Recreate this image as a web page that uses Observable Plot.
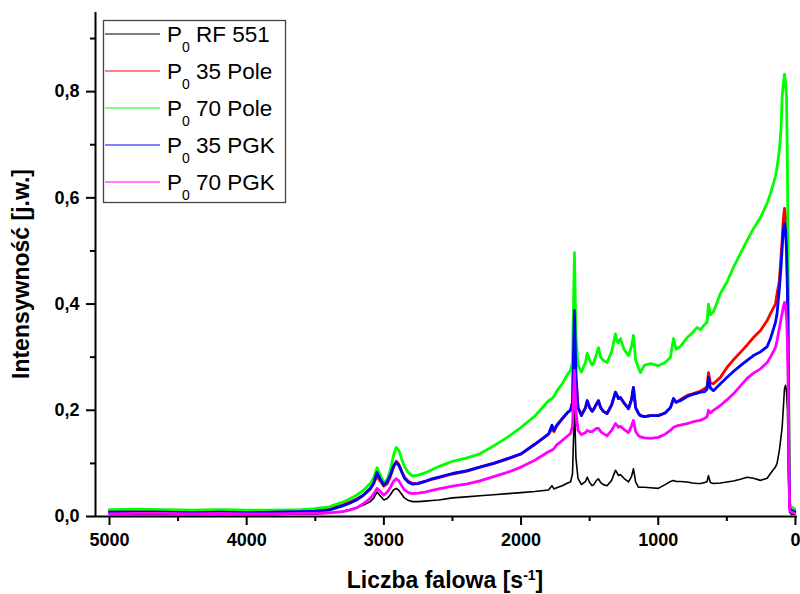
<!DOCTYPE html>
<html>
<head>
<meta charset="utf-8">
<script src="https://cdn.jsdelivr.net/npm/d3@7"></script>
<script src="https://cdn.jsdelivr.net/npm/@observablehq/plot@0.6"></script>
<style>
  html, body { margin: 0; padding: 0; background: #fff; }
  #chart svg { display: block; }
</style>
</head>
<body>
<div id="chart"></div>
<script>
// Raman spectra: wavenumber grid shared by all five samples
const wavenumber = [
  5000, 4800, 4600, 4400, 4200, 4000, 3800, 3600, 3500, 3400,
  3300, 3250, 3200, 3150, 3100, 3075, 3050, 3030, 3000, 2975,
  2950, 2930, 2910, 2890, 2870, 2850, 2820, 2790, 2750, 2700,
  2650, 2600, 2500, 2400, 2300, 2200, 2100, 2000, 1900, 1800,
  1775, 1760, 1740, 1700, 1660, 1640, 1625, 1611, 1600, 1585,
  1560, 1530, 1518, 1500, 1482, 1470, 1450, 1436, 1420, 1400,
  1373, 1340, 1312, 1300, 1290, 1276, 1250, 1217, 1195, 1181,
  1165, 1144, 1130, 1100, 1057, 1000, 950, 911, 889, 870,
  840, 789, 750, 717, 693, 660, 644, 634, 620, 598,
  547, 498, 452, 401, 352, 306, 255, 206, 182, 146,
  134, 117, 105, 97, 88, 80, 72, 65, 58, 52,
  47, 42, 30, 15, 5
];

const rf551 = [
  .004, .004, .004, .004, .004, .004, .004, .005, .005, .006,
  .010, .013, .017, .021, .028, .034, .046, .040, .031, .034,
  .042, .050, .053, .049, .042, .035, .030, .028, .028, .029,
  .030, .031, .035, .037, .039, .041, .043, .045, .047, .050,
  .058, .052, .054, .058, .063, .065, .080, .209, .110, .072,
  .060, .066, .074, .064, .058, .060, .068, .071, .064, .060,
  .058, .068, .087, .082, .077, .079, .072, .065, .075, .090,
  .065, .055, .055, .055, .054, .053, .060, .066, .068, .066,
  .066, .065, .063, .062, .062, .064, .066, .077, .064, .062,
  .063, .065, .067, .070, .074, .072, .068, .072, .081, .093,
  .100, .125, .150, .168, .205, .240, .247, .235, .200, .110,
  .040, .008, .004, .004, .004
];

const pole35 = [
  .010, .010, .011, .010, .010, .010, .010, .011, .012, .015,
  .022, .027, .033, .040, .052, .062, .076, .068, .057, .062,
  .077, .092, .104, .098, .085, .074, .066, .062, .063, .066,
  .070, .073, .080, .085, .093, .100, .108, .118, .136, .155,
  .165, .160, .170, .184, .196, .200, .215, .380, .260, .205,
  .192, .205, .218, .205, .198, .202, .212, .218, .205, .198,
  .194, .210, .234, .228, .222, .224, .214, .203, .220, .243,
  .205, .194, .190, .188, .190, .190, .195, .205, .222, .215,
  .220, .228, .231, .234, .236, .241, .245, .271, .252, .250,
  .262, .281, .295, .309, .323, .337, .350, .369, .382, .400,
  .420, .444, .490, .520, .560, .580, .565, .545, .440, .300,
  .100, .020, .012, .012, .010
];

const pole70 = [
  .013, .014, .013, .012, .013, .012, .012, .013, .015, .018,
  .027, .033, .040, .049, .062, .072, .092, .080, .064, .070,
  .090, .115, .130, .124, .108, .094, .082, .076, .078, .082,
  .088, .094, .104, .110, .118, .133, .149, .168, .189, .218,
  .222, .226, .236, .250, .268, .275, .290, .497, .340, .285,
  .272, .290, .307, .294, .285, .290, .306, .318, .300, .294,
  .290, .310, .344, .330, .327, .335, .315, .303, .320, .341,
  .295, .280, .271, .285, .288, .284, .290, .300, .335, .315,
  .320, .337, .346, .356, .352, .362, .366, .400, .380, .385,
  .420, .442, .469, .495, .520, .542, .563, .590, .608, .640,
  .657, .690, .730, .790, .815, .833, .815, .790, .650, .450,
  .150, .025, .018, .016, .014
];

const pgk35 = [
  .008, .008, .008, .007, .008, .007, .008, .009, .010, .012,
  .020, .025, .031, .040, .052, .062, .083, .072, .059, .066,
  .080, .095, .102, .096, .084, .072, .064, .061, .062, .066,
  .071, .074, .081, .086, .093, .100, .109, .118, .136, .155,
  .172, .162, .172, .184, .196, .200, .215, .388, .265, .205,
  .190, .205, .218, .205, .198, .202, .212, .218, .205, .198,
  .194, .210, .234, .228, .222, .224, .214, .203, .220, .243,
  .205, .194, .190, .188, .190, .190, .195, .205, .222, .215,
  .218, .226, .230, .232, .234, .235, .240, .262, .242, .237,
  .250, .262, .273, .284, .294, .303, .310, .320, .335, .365,
  .382, .430, .470, .505, .540, .552, .540, .500, .420, .280,
  .090, .016, .010, .010, .009
];

const pgk70 = [
  .005, .006, .006, .005, .006, .005, .005, .006, .006, .007,
  .009, .012, .016, .024, .034, .042, .053, .048, .040, .046,
  .056, .066, .071, .067, .058, .050, .045, .043, .044, .046,
  .049, .052, .057, .061, .067, .075, .083, .093, .106, .122,
  .125, .128, .135, .143, .152, .156, .170, .275, .200, .162,
  .154, .158, .162, .160, .160, .162, .166, .166, .160, .156,
  .152, .162, .175, .172, .168, .170, .164, .158, .170, .181,
  .160, .152, .150, .148, .147, .149, .155, .162, .168, .170,
  .172, .175, .178, .180, .181, .185, .188, .200, .195, .200,
  .209, .220, .231, .246, .260, .270, .278, .290, .300, .318,
  .331, .355, .372, .382, .395, .403, .395, .375, .330, .230,
  .080, .012, .008, .007, .006
];

const seriesNames = ["RF 551", "35 Pole", "70 Pole", "35 PGK", "70 PGK"];
const seriesValues = [rf551, pole35, pole70, pgk35, pgk70];
const seriesColors = ["#000000", "#ff0000", "#00ff00", "#0000ff", "#ff00ff"];
const seriesWidths = [1.6, 2.8, 2.8, 2.8, 2.8];

const xMajor = [5000, 4000, 3000, 2000, 1000, 0];
const xMinor = [4500, 3500, 2500, 1500, 500];
const yMajor = [0, 0.2, 0.4, 0.6, 0.8];
const yMinor = [0.1, 0.3, 0.5, 0.7, 0.9];
const xDomain = [5102, -15];
const yDomain = [0, 0.949];

const comma = d => d.toFixed(1).replace(".", ",");

const lineMarks = seriesNames.map((name, i) =>
  Plot.line(
    wavenumber.map((w, j) => ({w, v: seriesValues[i][j]})),
    {x: "w", y: "v", stroke: seriesColors[i], strokeWidth: seriesWidths[i], strokeLinejoin: "round"}
  )
);

const svg = Plot.plot({
  width: 800,
  height: 594,
  marginTop: 12,
  marginBottom: 78,
  marginLeft: 95,
  marginRight: 3,
  x: {domain: xDomain},
  y: {domain: yDomain},
  style: {
    fontFamily: "'Liberation Sans', Arial, sans-serif",
    fontSize: "18px",
    color: "#000",
    background: "#fff",
    overflow: "visible"
  },
  marks: [
    ...lineMarks,
    Plot.axisX({ticks: xMinor, tickSize: 5, tickFormat: () => "", strokeWidth: 2, label: null}),
    Plot.axisX({ticks: xMajor, tickSize: 9, tickPadding: 8, tickFormat: d => String(d),
                strokeWidth: 2, fontWeight: "bold", label: null}),
    Plot.axisY({ticks: yMinor, tickSize: 5, tickFormat: () => "", strokeWidth: 2, label: null}),
    Plot.axisY({ticks: yMajor, tickSize: 9, tickPadding: 7, tickFormat: comma,
                strokeWidth: 2, fontWeight: "bold", label: null}),
    Plot.ruleY([yDomain[0]], {strokeWidth: 2}),
    Plot.ruleX([xDomain[0]], {strokeWidth: 2})
  ]
});

const root = d3.select(svg);

// axis titles
root.append("text")
  .attr("transform", "translate(29,274) rotate(-90)")
  .attr("text-anchor", "middle")
  .attr("font-size", 23)
  .attr("font-weight", "bold")
  .attr("fill", "#000")
  .text("Intensywność [j.w.]");

const xt = root.append("text")
  .attr("x", 445)
  .attr("y", 588)
  .attr("text-anchor", "middle")
  .attr("font-size", 23)
  .attr("font-weight", "bold")
  .attr("fill", "#000");
xt.append("tspan").text("Liczba falowa [s");
xt.append("tspan").attr("font-size", 14).attr("dy", -8).text("-1");
xt.append("tspan").attr("dy", 8).text("]");

// legend box
const lg = root.append("g").attr("font-weight", "normal").attr("text-anchor", "start");
lg.append("rect")
  .attr("x", 103.5).attr("y", 20.5)
  .attr("width", 182).attr("height", 182)
  .attr("fill", "#fff")
  .attr("stroke", "#444")
  .attr("stroke-width", 1.3);

seriesNames.forEach((name, i) => {
  const cy = 34 + i * 37;
  lg.append("line")
    .attr("x1", 105).attr("x2", 160)
    .attr("y1", cy).attr("y2", cy)
    .attr("stroke", seriesColors[i])
    .attr("stroke-width", 1.2);
  const t = lg.append("text")
    .attr("x", 167).attr("y", cy + 8)
    .attr("text-anchor", "start")
    .attr("font-size", 22.5)
    .attr("fill", "#000");
  t.append("tspan").text("P");
  t.append("tspan").attr("font-size", 14).attr("dy", 10).text("0");
  t.append("tspan").attr("dy", -10).text("\u00a0" + name);
});

document.getElementById("chart").appendChild(svg);
</script>
</body>
</html>
